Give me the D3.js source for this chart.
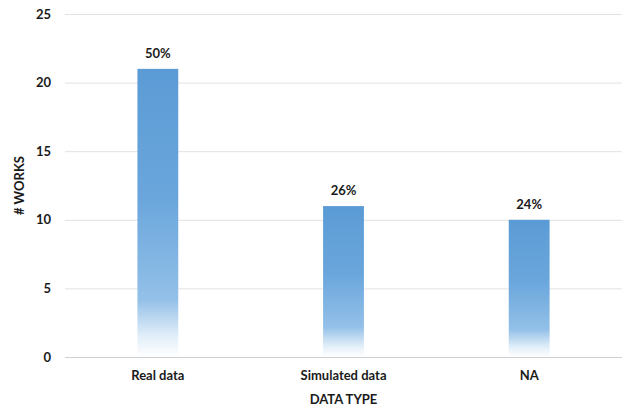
<!DOCTYPE html>
<html>
<head>
<meta charset="utf-8">
<script src="https://cdn.jsdelivr.net/npm/d3@7"></script>
<style>
  html, body { margin: 0; padding: 0; background: #fff; }
  svg { display: block; font-family: Lato, "Open Sans", sans-serif; }
</style>
</head>
<body>
<svg id="chart" width="626" height="407"></svg>
<script>
// Works counted by data type
const categories = ["Real data", "Simulated data", "NA"];
const works = [21, 11, 10];
const shares = ["50%", "26%", "24%"];
const yTicks = [0, 5, 10, 15, 20, 25];

const svg = d3.select("#chart");
const margin = { top: 14, right: 4, bottom: 50, left: 65 };
const width = 626 - margin.left - margin.right;
const height = 407 - margin.top - margin.bottom;

const x = d3.scaleBand().domain(categories).range([0, width]).paddingInner(0.78).paddingOuter(0.39);
const y = d3.scaleLinear().domain([0, 25]).range([height, 0]);

const defs = svg.append("defs");
const grad = defs.append("linearGradient")
  .attr("id", "barFill").attr("x1", 0).attr("y1", 0).attr("x2", 0).attr("y2", 1);
[[0, "#5b9bd5"], [0.45, "#6aa6dc"], [0.8, "#93c0e8"], [0.93, "#e3eff9"], [1, "#ffffff"]]
  .forEach(([o, c]) => grad.append("stop").attr("offset", o).attr("stop-color", c));

const g = svg.append("g").attr("transform", `translate(${margin.left},${margin.top})`);

// gridlines and y tick labels
const yAxis = g.append("g").call(d3.axisLeft(y).tickValues(yTicks).tickSize(-width).tickPadding(14));
yAxis.select(".domain").remove();
yAxis.selectAll(".tick line").attr("stroke", d => d === 0 ? "#d0d0d0" : "#e2e2e2").attr("stroke-width", 1);
yAxis.selectAll(".tick text")
  .attr("fill", "#1a1a1a").attr("font-size", 13).attr("font-weight", "bold")
  .attr("font-family", "Lato, sans-serif");

// bars
g.selectAll("rect.bar").data(categories).join("rect")
  .attr("class", "bar")
  .attr("x", d => x(d))
  .attr("y", (d, i) => y(works[i]))
  .attr("width", x.bandwidth())
  .attr("height", (d, i) => height - y(works[i]))
  .attr("fill", "url(#barFill)");

// value labels
g.selectAll("text.val").data(categories).join("text")
  .attr("class", "val")
  .attr("x", d => x(d) + x.bandwidth() / 2)
  .attr("y", (d, i) => y(works[i]) - 11)
  .attr("text-anchor", "middle")
  .attr("font-size", 13).attr("font-weight", "bold").attr("fill", "#1a1a1a")
  .text((d, i) => shares[i]);

// category labels
const xAxis = g.append("g").attr("transform", `translate(0,${height})`)
  .call(d3.axisBottom(x).tickSize(0).tickPadding(14));
xAxis.select(".domain").remove();
xAxis.selectAll(".tick text")
  .attr("fill", "#1a1a1a").attr("font-size", 13).attr("font-weight", "bold")
  .attr("font-family", "Lato, sans-serif");

// axis titles
svg.append("text")
  .attr("x", margin.left + width / 2).attr("y", 404)
  .attr("text-anchor", "middle").attr("font-size", 13).attr("font-weight", "bold").attr("fill", "#1a1a1a")
  .text("DATA TYPE");
svg.append("text")
  .attr("transform", `translate(24,${margin.top + height / 2}) rotate(-90)`)
  .attr("text-anchor", "middle").attr("font-size", 13).attr("font-weight", "bold").attr("fill", "#1a1a1a")
  .text("# WORKS");
</script>
</body>
</html>
